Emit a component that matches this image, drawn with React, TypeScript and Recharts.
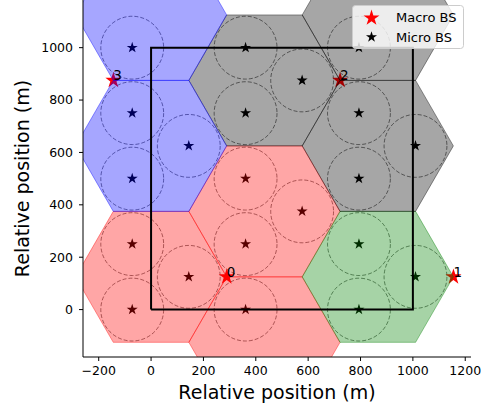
import { ComposedChart, Area, Line, Scatter, XAxis, YAxis } from 'recharts'

// axes
const xTicks = [-200, 0, 200, 400, 600, 800, 1000, 1200]
const yTicks = [0, 200, 400, 600, 800, 1000]
const xDomain = [-260, 1222]
const yDomain = [-181, 1182]

// sector hexagons (centres, m) and the site each belongs to
const hexX = [0, 433, 433, 866, 433, 866, 866, 0, 0]
const hexY = [125, 375, -125, 125, 875, 625, 1125, 1125, 625]
const hexSite = [0, 0, 0, 1, 2, 2, 2, 3, 3]
const siteColor = ['#ff0000', '#008000', '#000000', '#0000ff']
const HEX_R = 288.7

// macro base stations
const macroX = [289, 1155, 722, -144]
const macroY = [125, 125, 875, 875]
const macroId = ['0', '1', '2', '3']

// micro base stations
const microX = [144, -72, -72, 577, 361, 361, 361, 1010, 794, 794, 577, 361, 361, 1010, 794, 794, 794, -72, 144, -72, -72]
const microY = [125, 250, 0, 375, 500, 250, 0, 125, 250, 0, 875, 1000, 750, 625, 750, 500, 1000, 1000, 625, 750, 500]
const MICRO_R = 120

// square area of interest
const rectX = [0, 1000, 1000, 0, 0]
const rectY = [0, 0, 1000, 1000, 0]

const W = 484
const H = 408
const M = { top: 0, right: 13, left: 0, bottom: 0 }
const YW = 83
const XH = 51
const pxPerM = (W - M.right - M.left - YW) / (xDomain[1] - xDomain[0])

const macros = macroX.map((x, i) => ({ x, y: macroY[i], id: macroId[i] }))
const micros = microX.map((x, i) => ({ x, y: microY[i] }))
const rect = rectX.map((x, i) => ({ x, y: rectY[i] }))

function hexData(i: number) {
  const cx = hexX[i]
  const cy = hexY[i]
  const h = (HEX_R * Math.sqrt(3)) / 2
  return [
    { x: cx - HEX_R, range: [cy, cy] },
    { x: cx - HEX_R / 2, range: [cy - h, cy + h] },
    { x: cx + HEX_R / 2, range: [cy - h, cy + h] },
    { x: cx + HEX_R, range: [cy, cy] },
  ]
}

function starPath(cx: number, cy: number, r: number) {
  const pts: string[] = []
  for (let i = 0; i < 10; i++) {
    const rad = i % 2 === 0 ? r : r * 0.382
    const a = -Math.PI / 2 + (i * Math.PI) / 5
    pts.push(`${(cx + rad * Math.cos(a)).toFixed(2)},${(cy + rad * Math.sin(a)).toFixed(2)}`)
  }
  return 'M' + pts.join('L') + 'Z'
}

const fmt = (v: number) => (v < 0 ? `\u2212${-v}` : `${v}`)

export default function App() {
  return (
    <div style={{ position: 'absolute', left: 0, top: 0, width: W, height: H, fontFamily: 'DejaVu Sans', background: '#fff' }}>
      <ComposedChart width={W} height={H} margin={M}>
        <XAxis
          type="number"
          dataKey="x"
          domain={xDomain}
          allowDataOverflow
          ticks={xTicks}
          tickFormatter={fmt}
          height={XH}
          tickSize={4}
          tickMargin={5}
          stroke="#000"
          tick={{ fill: '#000', fontSize: 12.5 }}
          label={{ value: 'Relative position (m)', position: 'insideBottom', offset: 9, style: { fontSize: 19, fill: '#000' } }}
        />
        <YAxis
          type="number"
          dataKey="y"
          domain={yDomain}
          allowDataOverflow
          ticks={yTicks}
          width={YW}
          tickSize={4}
          tickMargin={6}
          stroke="#000"
          tick={{ fill: '#000', fontSize: 12.5 }}
          label={{ value: 'Relative position (m)', angle: -90, position: 'insideLeft', offset: 22, style: { fontSize: 19, fill: '#000', textAnchor: 'middle' } }}
        />
        <YAxis yAxisId="right" orientation="right" type="number" domain={yDomain} width={0} tick={false} tickLine={false} stroke="#000" />

        {/* stars and coverage circles sit under the sector fills, like in the original */}
        <Scatter
          data={micros}
          zIndex={40}
          isAnimationActive={false}
          shape={(p: any) => (
            <circle cx={p.cx} cy={p.cy} r={MICRO_R * pxPerM} fill="none" stroke="#000" strokeOpacity={0.5} strokeDasharray="4 2" />
          )}
        />
        <Scatter data={micros} zIndex={45} isAnimationActive={false} shape={(p: any) => <path d={starPath(p.cx, p.cy, 5.8)} fill="#000" />} />
        <Scatter data={macros} zIndex={50} isAnimationActive={false} shape={(p: any) => <path d={starPath(p.cx, p.cy, 8.4)} fill="#ff0000" />} />

        {hexX.map((_, i) => (
          <Area
            key={i}
            data={hexData(i)}
            dataKey="range"
            type="linear"
            fill={siteColor[hexSite[i]]}
            fillOpacity={0.35}
            stroke={siteColor[hexSite[i]]}
            strokeOpacity={0.4}
            strokeWidth={1}
            dot={false}
            activeDot={false}
            isAnimationActive={false}
          />
        ))}

        <Line data={rect} dataKey="y" type="linear" stroke="#000" strokeWidth={2} dot={false} activeDot={false} isAnimationActive={false} />

        <Scatter
          data={macros}
          zIndex={2000}
          isAnimationActive={false}
          shape={(p: any) => (
            <text x={p.cx} y={p.cy} fontSize={13.5} fill="#000">
              {p.payload.id}
            </text>
          )}
        />
      </ComposedChart>

      <svg width={112} height={44} style={{ position: 'absolute', left: 352, top: 5 }}>
        <rect x={0.5} y={0.5} width={111} height={43} rx={3} fill="#fff" fillOpacity={0.8} stroke="#ccc" />
        <path d={starPath(19.5, 13, 8.4)} fill="#ff0000" />
        <path d={starPath(19.5, 32, 5.8)} fill="#000" />
        <text x={44} y={17} fontSize={13} fill="#000">Macro BS</text>
        <text x={44} y={36.5} fontSize={13} fill="#000">Micro BS</text>
      </svg>
    </div>
  )
}
